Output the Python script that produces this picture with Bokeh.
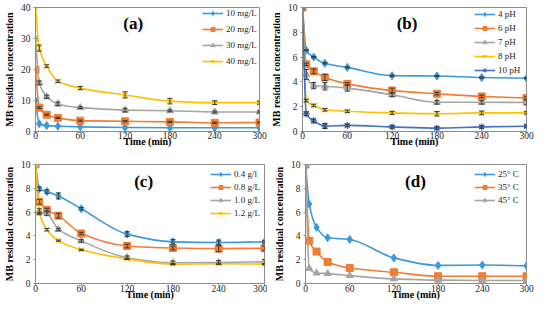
import numpy as np
from bokeh.plotting import figure
from bokeh.layouts import column, row
from bokeh.models import (Range1d, FixedTicker, Legend, LegendItem, Label,
                          Whisker, TeeHead, ColumnDataSource)
from bokeh.embed import file_html
from bokeh.resources import INLINE

# ---------------- data ----------------
time_min = [0, 5, 15, 30, 60, 120, 180, 240, 300]
x_ticks = [0, 60, 120, 180, 240, 300]

# (a) initial concentration
a_labels = ["10 mg/L", "20 mg/L", "30 mg/L", "40 mg/L"]
a_10 = [10.0, 2.5, 1.9, 1.7, 1.5, 1.3, 1.2, 1.2, 1.2]
a_20 = [19.9, 7.7, 5.4, 4.4, 3.5, 3.3, 3.1, 2.8, 2.9]
a_30 = [29.9, 15.7, 11.2, 8.9, 7.7, 6.9, 6.7, 6.3, 6.3]
a_40 = [40.0, 26.9, 21.1, 16.2, 14.0, 11.8, 9.8, 9.3, 9.3]
a_10_err = [0, 0, 0, 0, 0, 0, 0, 0, 0]
a_20_err = [0, 0.3, 0.2, 0.2, 0.2, 0.2, 0.2, 0.2, 0.2]
a_30_err = [0, 0.6, 0.5, 0.6, 0.3, 0.6, 0.3, 0.3, 0.3]
a_40_err = [0, 1.0, 0.4, 0.4, 0.5, 1.0, 0.9, 0.6, 0.5]
a_yticks = [0, 10, 20, 30, 40]

# (b) pH
b_labels = ["4 pH", "6 pH", "7 pH", "8 pH", "10 pH"]
b_4 = [10.0, 6.55, 6.0, 5.5, 5.17, 4.5, 4.48, 4.35, 4.3]
b_6 = [10.0, 5.42, 4.85, 4.36, 3.84, 3.3, 3.05, 2.83, 2.7]
b_7 = [10.0, 4.6, 3.7, 3.65, 3.5, 2.96, 2.36, 2.36, 2.34]
b_8 = [10.0, 2.5, 2.1, 1.75, 1.63, 1.5, 1.43, 1.5, 1.5]
b_10 = [10.0, 1.43, 0.86, 0.44, 0.49, 0.37, 0.27, 0.37, 0.42]
b_4_err = [0, 0.05, 0.05, 0.05, 0.05, 0.05, 0.05, 0.05, 0.05]
b_6_err = [0, 0.1, 0.2, 0.25, 0.1, 0.2, 0.1, 0.1, 0.1]
b_7_err = [0, 0.4, 0.25, 0.3, 0.25, 0.15, 0.15, 0.15, 0.2]
b_8_err = [0, 0.1, 0.1, 0.1, 0.1, 0.12, 0.18, 0.15, 0.1]
b_10_err = [0, 0.15, 0.15, 0.2, 0.1, 0.1, 0.1, 0.1, 0.1]
b_yticks = [0, 2, 4, 6, 8, 10]

# (c) dose
c_labels = ["0.4 g/l", "0.8 g/L", "1.0 g/L", "1.2 g/L"]
c_04 = [10.0, 7.95, 7.72, 7.36, 6.28, 4.15, 3.5, 3.45, 3.5]
c_08 = [10.0, 6.87, 6.17, 5.7, 4.2, 3.15, 2.98, 2.93, 2.96]
c_10 = [10.0, 6.03, 5.9, 4.54, 3.58, 2.17, 1.74, 1.77, 1.82]
c_12 = [10.0, 5.95, 4.52, 3.6, 2.83, 2.07, 1.63, 1.66, 1.63]
c_04_err = [0, 0.15, 0.15, 0.25, 0.1, 0.2, 0.2, 0.2, 0.1]
c_08_err = [0, 0.2, 0.15, 0.2, 0.1, 0.15, 0.15, 0.25, 0.2]
c_10_err = [0, 0.25, 0.2, 0.1, 0.1, 0.15, 0.15, 0.15, 0.2]
c_12_err = [0, 0.05, 0.1, 0.05, 0.05, 0.05, 0.05, 0.05, 0.05]
c_yticks = [0, 2, 4, 6, 8, 10]

# (d) temperature
d_labels = ["25\u00b0 C", "35\u00b0 C", "45\u00b0 C"]
d_25 = [10.0, 6.69, 4.72, 3.84, 3.7, 2.15, 1.52, 1.55, 1.49]
d_35 = [10.0, 3.59, 2.68, 1.8, 1.3, 0.94, 0.61, 0.61, 0.61]
d_45 = [10.0, 1.27, 0.88, 0.83, 0.66, 0.39, 0.28, 0.25, 0.25]
d_yticks = [0, 2, 4, 6, 8, 10]

# ---------------- styles ----------------
COLORS = ["#3B99DC", "#F07D33", "#A5A5A5", "#FFC000", "#4472C4"]
MARKERS = ["diamond", "square", "triangle", "x", "asterisk"]
MSIZES = [8, 7, 7, 7, 7]
FONT = "Liberation Serif"
AXIS_GRAY = "#8C8C8C"


def smooth_controls(xs, ys):
    """Monotone cubic (PCHIP-like) tangents -> cubic Bezier control points."""
    x = np.asarray(xs, float)
    y = np.asarray(ys, float)
    h = np.diff(x)
    d = np.diff(y) / h
    n = len(x)
    m = np.zeros(n)
    m[0] = d[0]
    m[-1] = d[-1]
    for k in range(1, n - 1):
        if d[k - 1] * d[k] <= 0:
            m[k] = 0.0
        else:
            w1 = 2 * h[k] + h[k - 1]
            w2 = h[k] + 2 * h[k - 1]
            m[k] = (w1 + w2) / (w1 / d[k - 1] + w2 / d[k])
    x0, x1 = x[:-1], x[1:]
    y0, y1 = y[:-1], y[1:]
    cx0 = x0 + h / 3
    cy0 = y0 + m[:-1] * h / 3
    cx1 = x1 - h / 3
    cy1 = y1 - m[1:] * h / 3
    return dict(x0=x0, y0=y0, x1=x1, y1=y1, cx0=cx0, cy0=cy0, cx1=cx1, cy1=cy1)


def make_panel(series, errs, labels, ymax, yticks, geom, xstand, leg, tag):
    W, H, bl, br, bt, bb = geom
    p = figure(width=W, height=H, output_backend="svg", toolbar_location=None,
               x_range=Range1d(0, 300), y_range=Range1d(0, ymax),
               min_border_left=bl, min_border_right=br, min_border_top=bt,
               min_border_bottom=bb)
    p.grid.visible = False
    p.outline_line_color = AXIS_GRAY
    p.outline_line_width = 1
    p.background_fill_color = "white"
    p.border_fill_color = "white"

    for ax in (p.xaxis[0], p.yaxis[0]):
        ax.axis_line_color = AXIS_GRAY
        ax.major_tick_line_color = AXIS_GRAY
        ax.major_tick_out = 2
        ax.major_tick_in = 0
        ax.minor_tick_line_color = None
        ax.major_label_text_font = FONT
        ax.major_label_text_font_size = "9.5px"
        ax.major_label_text_color = "#262626"
        ax.axis_label_text_font = FONT
        ax.axis_label_text_font_style = "bold"
        ax.axis_label_text_font_size = "10px"
        ax.axis_label_text_color = "#000000"
    p.xaxis[0].ticker = FixedTicker(ticks=x_ticks)
    p.yaxis[0].ticker = FixedTicker(ticks=yticks)
    p.xaxis[0].axis_label = "Time (min)"
    p.yaxis[0].axis_label = "MB residual concentration"
    p.xaxis[0].major_label_standoff = xstand[0]
    p.xaxis[0].axis_label_standoff = xstand[1]
    p.yaxis[0].major_label_standoff = 3
    p.yaxis[0].axis_label_standoff = 3

    items = []
    for i, (ys, err, lab) in enumerate(zip(series, errs, labels)):
        c = COLORS[i]
        ctrl = smooth_controls(time_min, ys)
        br_ = p.bezier(source=ColumnDataSource(ctrl), x0="x0", y0="y0", x1="x1", y1="y1",
                       cx0="cx0", cy0="cy0", cx1="cx1", cy1="cy1",
                       line_color=c, line_width=1.6)
        if err is not None:
            xs = [t for t, e in zip(time_min, err) if e > 0]
            up = [v + e for v, e in zip(ys, err) if e > 0]
            lo = [v - e for v, e in zip(ys, err) if e > 0]
            if xs:
                src = ColumnDataSource(dict(x=xs, upper=up, lower=lo))
                w = Whisker(source=src, base="x", upper="upper", lower="lower",
                            dimension="height", line_color="#3A3A3A", line_width=1,
                            upper_head=TeeHead(size=5, line_color="#3A3A3A", line_width=1),
                            lower_head=TeeHead(size=5, line_color="#3A3A3A", line_width=1),
                            level="glyph")
                p.add_layout(w)
        mk = MARKERS[i]
        if mk in ("x", "asterisk"):
            sc = p.scatter(x=time_min, y=ys, marker=mk, size=MSIZES[i],
                           line_color=c, line_width=1.3)
        else:
            sc = p.scatter(x=time_min, y=ys, marker=mk, size=MSIZES[i],
                           fill_color=c, line_color=c)
        items.append(LegendItem(label=lab, renderers=[br_, sc]))

    frame_w = W - bl - br
    frame_h = H - bt - bb
    # legend: (glyph left px, first row centre px, row pitch px) in figure pixels
    gx, gy, pitch = leg
    n = len(labels)
    item_h = 10
    spacing = int(pitch - item_h)
    leg_h = n * item_h + (n - 1) * spacing
    top_from_frame = gy - item_h / 2 - bt
    lg = Legend(items=items, location=(int(gx - bl), int(frame_h - top_from_frame - leg_h)),
                glyph_width=21, glyph_height=item_h, label_height=item_h,
                label_standoff=3, spacing=spacing, padding=0, margin=0,
                label_text_font=FONT, label_text_font_size="9px",
                label_text_color="#262626",
                background_fill_alpha=0, border_line_alpha=0)
    p.add_layout(lg)

    # panel tag: (text, centre x px, centre y px) in figure pixels
    ttext, tx, ty = tag
    xd = (tx - bl) / frame_w * 300
    yd = ymax * (1 - (ty - bt) / frame_h)
    p.add_layout(Label(x=xd, y=yd, text=ttext, text_font=FONT,
                       text_font_style="bold", text_font_size="17px",
                       text_align="center", text_baseline="middle",
                       text_color="#000000"))
    return p


pa = make_panel([a_10, a_20, a_30, a_40], [a_10_err, a_20_err, a_30_err, a_40_err],
                a_labels, 40, a_yticks, (267, 153, 32, 8, 7, 22), (-2, -6),
                (199, 13, 16), ("(a)", 131, 23))
pb = make_panel([b_4, b_6, b_7, b_8, b_10], [b_4_err, b_6_err, b_7_err, b_8_err, b_10_err],
                b_labels, 10, b_yticks, (267, 153, 34, 8, 7, 22), (-2, -6),
                (206, 14, 14), ("(b)", 139, 23))
pc = make_panel([c_04, c_08, c_10, c_12], [c_04_err, c_08_err, c_10_err, c_12_err],
                c_labels, 10, c_yticks, (267, 153, 31, 3, 11, 23), (-1, -6),
                (206, 21, 13), ("(c)", 141, 28))
pd = make_panel([d_25, d_35, d_45], [None, None, None],
                d_labels, 10, d_yticks, (267, 153, 38, 8, 11, 23), (-1, -6),
                (207, 21, 13), ("(d)", 148, 28))

layout = column(row(pa, pb, spacing=0), row(pc, pd, spacing=0), spacing=0)
open("out.html", "w").write(file_html(layout, INLINE))
